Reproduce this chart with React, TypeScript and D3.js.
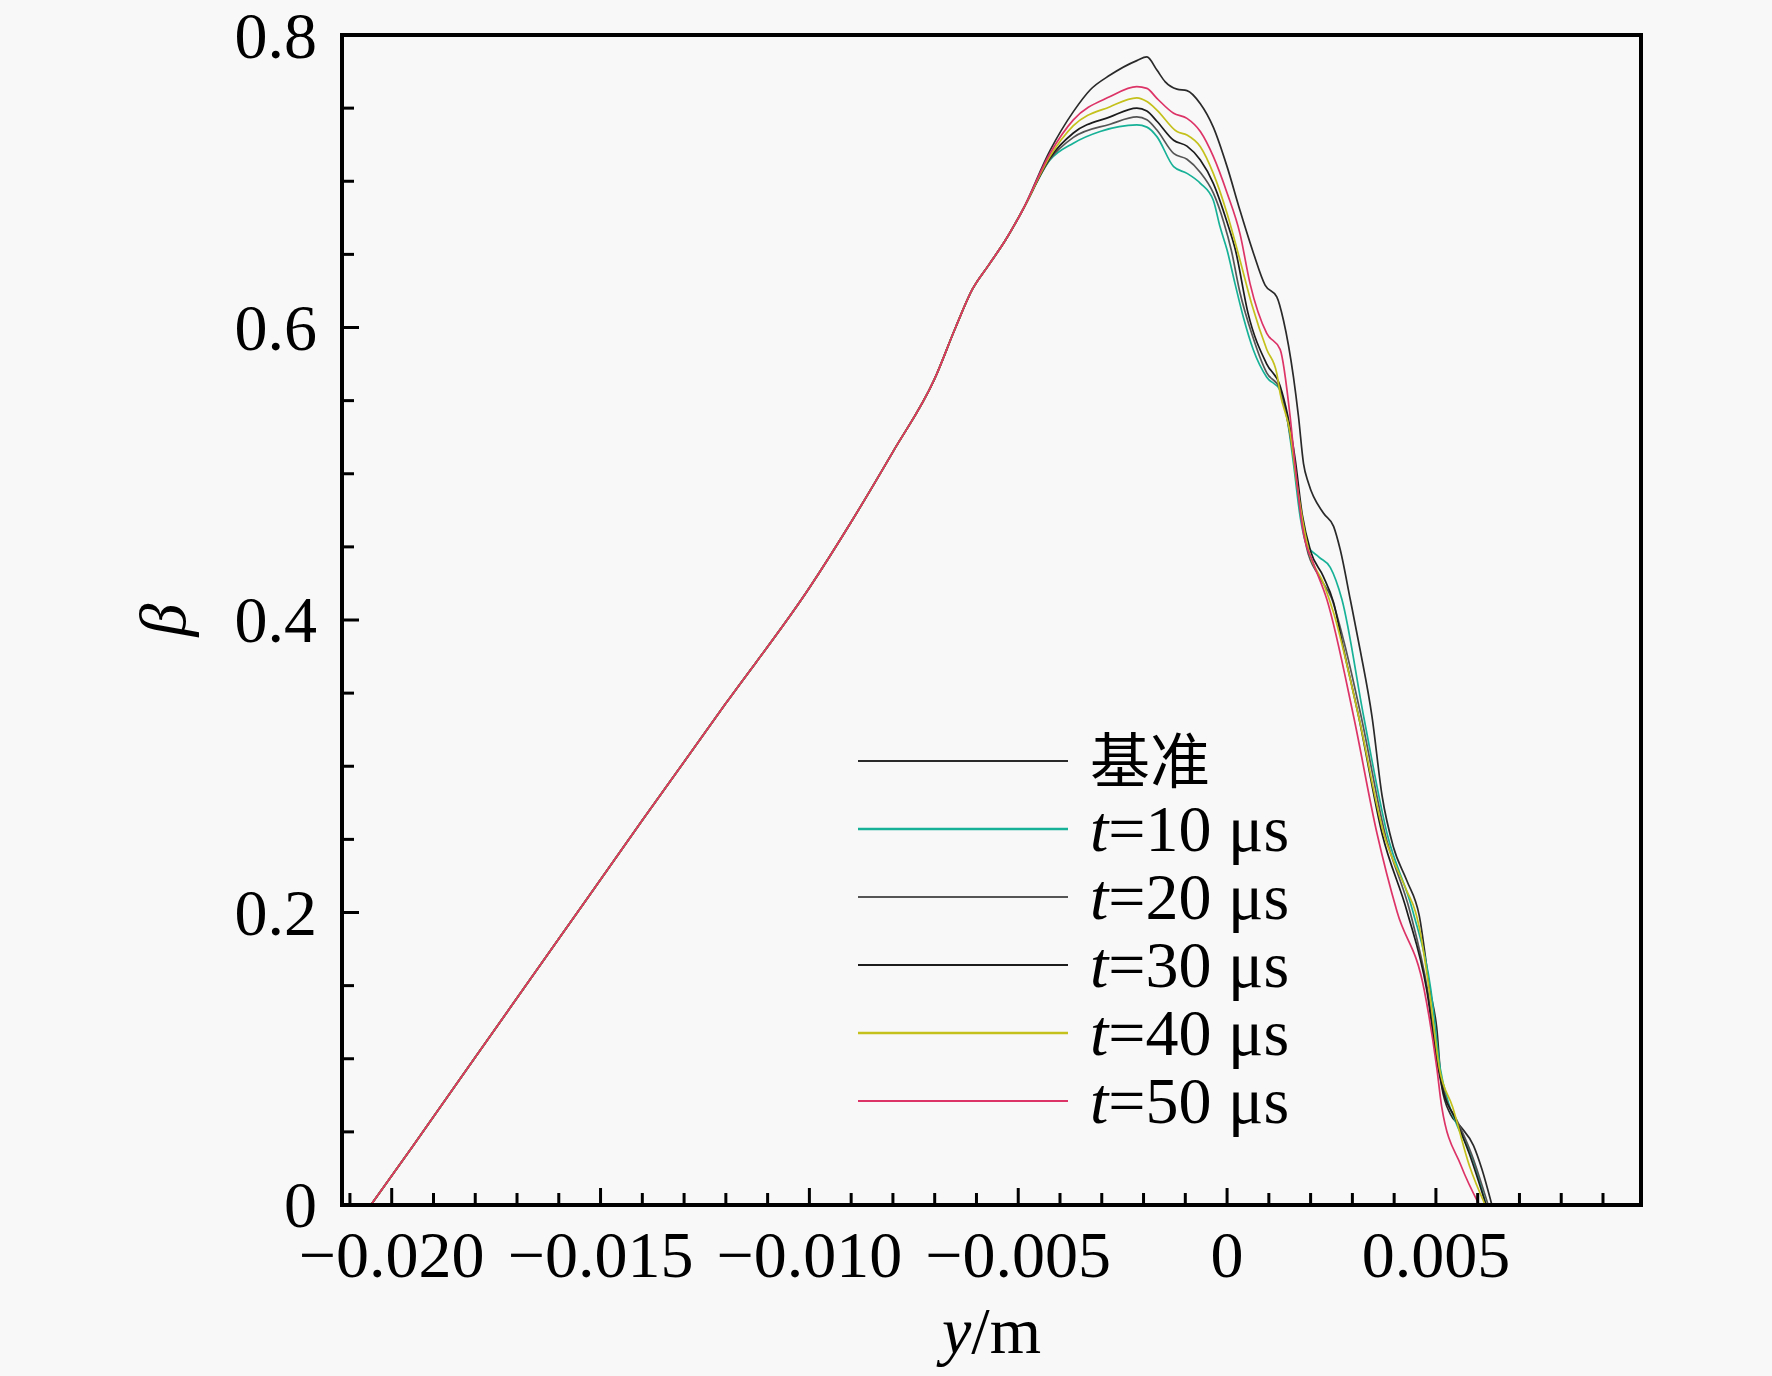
import { useEffect } from 'react';
import { scaleLinear, line, curveMonotoneX } from 'd3';

// shared rising flank (all six runs coincide here)
const risingPart: [number, number][] = [
  [-0.0205, 0], [-0.0195, 0.04], [-0.018, 0.101], [-0.016, 0.182], [-0.014, 0.263],
  [-0.012, 0.343], [-0.01, 0.422], [-0.009, 0.467], [-0.008, 0.515], [-0.007, 0.565],
  [-0.0065, 0.6], [-0.0061, 0.626], [-0.0057, 0.643], [-0.0053, 0.66], [-0.0049, 0.68],
];

const baselineTail: [number, number][] = [
  [-0.00424, 0.721], [-0.00368, 0.7476], [-0.00328, 0.7624], [-0.0028, 0.7726], [-0.00216, 0.7825],
  [-0.00192, 0.785], [-0.00168, 0.776], [-0.00148, 0.768], [-0.0012, 0.763], [-0.00096, 0.762],
  [-0.00064, 0.753], [-0.00033, 0.737], [0, 0.71], [0.00031, 0.68], [0.00063, 0.651],
  [0.00091, 0.629], [0.00119, 0.621], [0.00135, 0.605], [0.00159, 0.566], [0.00171, 0.539],
  [0.00183, 0.507], [0.00195, 0.4935], [0.00231, 0.473], [0.00255, 0.464], [0.00271, 0.448],
  [0.00295, 0.414], [0.00319, 0.379], [0.00347, 0.334], [0.00371, 0.28], [0.00398, 0.245],
  [0.0043, 0.222], [0.0046, 0.198], [0.00486, 0.147], [0.00502, 0.121], [0.00514, 0.081],
  [0.00535, 0.062], [0.00558, 0.054], [0.0059, 0.0406], [0.0061, 0.0246], [0.00634, 0],
];

const t10Tail: [number, number][] = [
  [-0.00424, 0.7145], [-0.00368, 0.726], [-0.00304, 0.734], [-0.00216, 0.7385], [-0.00192, 0.737],
  [-0.00168, 0.7305], [-0.00128, 0.71], [-0.00096, 0.7054], [-0.00064, 0.6986], [-0.00033, 0.687],
  [-0.00017, 0.669], [0, 0.653], [0.00019, 0.63], [0.00039, 0.607], [0.00063, 0.5846],
  [0.00095, 0.566], [0.00127, 0.557], [0.00143, 0.539], [0.00159, 0.507], [0.00175, 0.4706],
  [0.0019, 0.452], [0.0022, 0.443], [0.00247, 0.436], [0.00275, 0.414], [0.00327, 0.334],
  [0.00383, 0.254], [0.00445, 0.2005], [0.00488, 0.147], [0.0051, 0.094], [0.0053, 0.07],
  [0.0055, 0.055], [0.0059, 0.03], [0.0062, 0],
];

const t20Tail: [number, number][] = [
  [-0.00424, 0.715], [-0.00368, 0.73], [-0.0028, 0.739], [-0.00216, 0.744], [-0.00192, 0.742],
  [-0.00168, 0.735], [-0.00128, 0.719], [-0.00096, 0.715], [-0.00064, 0.706], [-0.00033, 0.692],
  [-0.00008, 0.672], [0.0001, 0.653], [0.0003, 0.625], [0.0006, 0.595], [0.00095, 0.569],
  [0.00127, 0.558], [0.00143, 0.539], [0.00161, 0.508], [0.00178, 0.47], [0.0019, 0.45],
  [0.0022, 0.43], [0.0025, 0.415], [0.0028, 0.385], [0.00321, 0.334], [0.00378, 0.254],
  [0.00438, 0.2005], [0.0048, 0.147], [0.00507, 0.094], [0.00525, 0.072], [0.0055, 0.058],
  [0.00585, 0.035], [0.00625, 0],
];

const t30Tail: [number, number][] = [
  [-0.00424, 0.716], [-0.00368, 0.733], [-0.0028, 0.744], [-0.00216, 0.75], [-0.00192, 0.748],
  [-0.00168, 0.741], [-0.00128, 0.728], [-0.00096, 0.724], [-0.00064, 0.7145], [-0.00033, 0.6986],
  [0, 0.672], [0.0002, 0.653], [0.0005, 0.61], [0.00095, 0.575], [0.00127, 0.56],
  [0.00145, 0.54], [0.00163, 0.51], [0.0018, 0.472], [0.002, 0.447], [0.0023, 0.43],
  [0.00255, 0.412], [0.00279, 0.38], [0.00315, 0.334], [0.00371, 0.254], [0.00431, 0.2005],
  [0.00478, 0.147], [0.00505, 0.094], [0.0052, 0.075], [0.00545, 0.06], [0.0058, 0.035],
  [0.0062, 0],
];

const t40Tail: [number, number][] = [
  [-0.00424, 0.717], [-0.00368, 0.738], [-0.0028, 0.751], [-0.00216, 0.757], [-0.00192, 0.7545],
  [-0.00168, 0.7487], [-0.0012, 0.734], [-0.00096, 0.7316], [-0.00064, 0.7236], [-0.00033, 0.7054],
  [0, 0.678], [0.00031, 0.646], [0.0006, 0.615], [0.00095, 0.585], [0.00119, 0.5686],
  [0.00127, 0.555], [0.00151, 0.528], [0.00167, 0.4935], [0.00195, 0.448], [0.00231, 0.425],
  [0.00255, 0.405], [0.00315, 0.334], [0.00375, 0.254], [0.0043, 0.215], [0.00451, 0.2005],
  [0.0046, 0.19], [0.00484, 0.147], [0.00508, 0.094], [0.0054, 0.067], [0.0058, 0.027],
  [0.00618, 0],
];

const t50Tail: [number, number][] = [
  [-0.00424, 0.719], [-0.00368, 0.742], [-0.0028, 0.7579], [-0.00216, 0.7647], [-0.00192, 0.7635],
  [-0.00168, 0.7567], [-0.00128, 0.7465], [-0.00096, 0.743], [-0.00064, 0.734], [-0.00033, 0.717],
  [0, 0.692], [0.00031, 0.664], [0.00055, 0.63], [0.00095, 0.596], [0.00127, 0.585],
  [0.00151, 0.539], [0.00163, 0.505], [0.00183, 0.459], [0.00205, 0.44], [0.00239, 0.414],
  [0.00303, 0.334], [0.00359, 0.254], [0.00407, 0.2005], [0.00472, 0.147], [0.00502, 0.094],
  [0.00514, 0.067], [0.0056, 0.027], [0.00604, 0],
];

const seriesLabels = ['基准', 't=10 μs', 't=20 μs', 't=30 μs', 't=40 μs', 't=50 μs'];
const seriesColors = ['#2a2a2a', '#17b197', '#555555', '#1c1c1c', '#c4c01c', '#dd3468'];
const seriesTails = [baselineTail, t10Tail, t20Tail, t30Tail, t40Tail, t50Tail];

const xTickLabels = ['−0.020', '−0.015', '−0.010', '−0.005', '0', '0.005'];
const yTickLabels = ['0', '0.2', '0.4', '0.6', '0.8'];

const W = 1772;
const H = 1376;
const plot = { left: 342, right: 1641, top: 35, bottom: 1205 };
const FONT = '"Liberation Serif", "Times New Roman", serif';

export default function App() {
  useEffect(() => {
    document.body.style.margin = '0';
    document.body.style.background = '#f8f8f8';
  }, []);

  const x = scaleLinear().domain([-0.02119, 0.00991]).range([plot.left, plot.right]);
  const y = scaleLinear().domain([0, 0.8]).range([plot.bottom, plot.top]);

  const path = line<[number, number]>()
    .x((d) => x(d[0]))
    .y((d) => y(d[1]))
    .curve(curveMonotoneX);

  const xMinor = x.ticks(30);
  const xMajor = x.ticks(6);
  const yMinor = y.ticks(16);
  const yMajor = y.ticks(4);

  const legendX0 = 858;
  const legendX1 = 1068;
  const legendY0 = 761;
  const legendStep = 68;

  return (
    <svg width={W} height={H} style={{ display: 'block' }} fontFamily={FONT}>
      <rect width={W} height={H} fill="#f8f8f8" />

      {/* curves */}
      <g fill="none" strokeWidth={1.7} strokeLinejoin="round">
        {seriesTails.map((tail, i) => (
          <path key={i} d={path([...risingPart, ...tail]) || ''} stroke={seriesColors[i]} />
        ))}
      </g>

      {/* minor and major ticks, inward */}
      <g stroke="#000" strokeWidth={3}>
        {xMinor.map((v) => {
          const major = xMajor.some((m) => Math.abs(m - v) < 1e-9);
          return <line key={'xm' + v} x1={x(v)} x2={x(v)} y1={plot.bottom} y2={plot.bottom - (major ? 17 : 12)} />;
        })}
        {yMinor.map((v) => {
          const major = yMajor.some((m) => Math.abs(m - v) < 1e-9);
          return <line key={'ym' + v} x1={plot.left} x2={plot.left + (major ? 17 : 12)} y1={y(v)} y2={y(v)} />;
        })}
      </g>

      {/* frame */}
      <rect
        x={plot.left}
        y={plot.top}
        width={plot.right - plot.left}
        height={plot.bottom - plot.top}
        fill="none"
        stroke="#000"
        strokeWidth={4}
      />

      {/* tick labels */}
      <g fontSize={66} fill="#000">
        {xMajor.map((v, i) => (
          <text key={'xl' + v} x={x(v)} y={1277} textAnchor="middle">
            {xTickLabels[i]}
          </text>
        ))}
        {yMajor.map((v, i) => (
          <text key={'yl' + v} x={317} y={Math.max(y(v) + 22, 58)} textAnchor="end">
            {yTickLabels[i]}
          </text>
        ))}
      </g>

      {/* axis titles */}
      <text x={(plot.left + plot.right) / 2} y={1353} fontSize={66} textAnchor="middle">
        <tspan fontStyle="italic">y</tspan>/m
      </text>
      <text
        transform={`translate(185, ${(plot.top + plot.bottom) / 2}) rotate(-90)`}
        fontSize={66}
        fontStyle="italic"
        textAnchor="middle"
      >
        β
      </text>

      {/* legend */}
      <g>
        {seriesLabels.map((label, i) => {
          const ly = legendY0 + i * legendStep;
          const isT = label.startsWith('t=');
          return (
            <g key={label}>
              <line x1={legendX0} x2={legendX1} y1={ly} y2={ly} stroke={seriesColors[i]} strokeWidth={i === 1 || i === 4 ? 2.6 : 1.8} />
              {isT ? (
                <text x={1090} y={ly + 22} fontSize={66}>
                  <tspan fontStyle="italic">t</tspan>
                  {label.slice(1)}
                </text>
              ) : (
                <text x={1090} y={ly + 22} fontSize={60} fontFamily='"Noto Sans CJK SC", sans-serif'>
                  {label}
                </text>
              )}
            </g>
          );
        })}
      </g>
    </svg>
  );
}
